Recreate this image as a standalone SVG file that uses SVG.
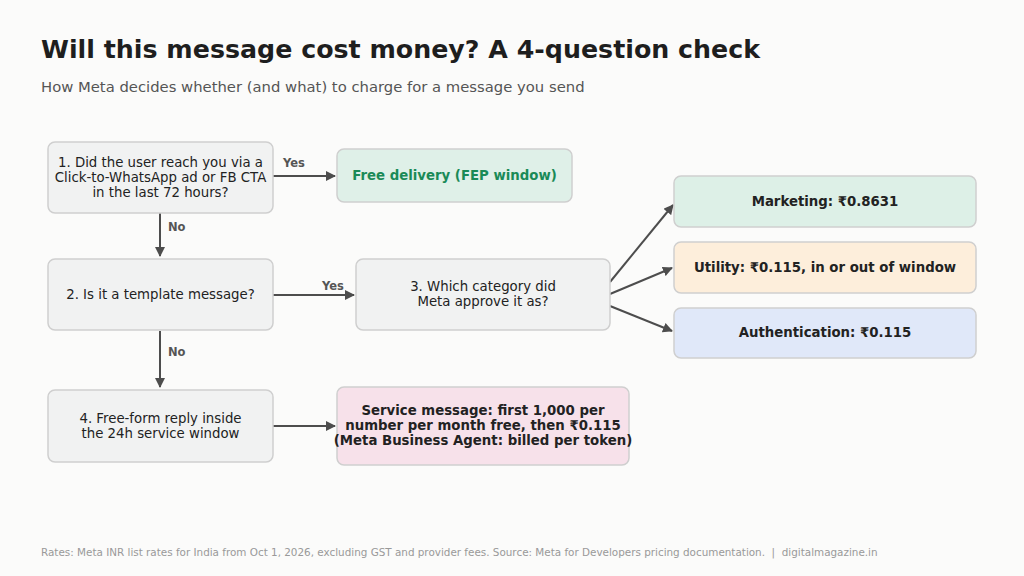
<svg xmlns="http://www.w3.org/2000/svg" width="1024" height="576" viewBox="0 0 1024 576">
<style>
text{font-family:"DejaVu Sans",sans-serif}
.box{stroke:#cfcfcf;stroke-width:1.5}
.q{fill:#f1f2f2}
.t{font-size:13.3px;fill:#222;text-anchor:middle}
.b{font-size:13.3px;font-weight:bold;fill:#222;text-anchor:middle}
.lbl{font-size:11.5px;font-weight:bold;fill:#555}
.c{stroke:#4d4d4d;stroke-width:2;fill:none;marker-end:url(#ah)}
</style>
<defs><marker id="ah" viewBox="0 0 10 10" refX="9" refY="5" markerWidth="5" markerHeight="5" orient="auto"><path d="M0,0L10,5L0,10z" fill="#4d4d4d"/></marker></defs>
<rect width="1024" height="576" fill="#fbfbfa"/>
<text x="41" y="58" font-size="25.3" font-weight="bold" fill="#1e1e1e">Will this message cost money? A 4-question check</text>
<text x="41" y="92" font-size="14.8" fill="#555">How Meta decides whether (and what) to charge for a message you send</text>
<g id="connectors">
<path class="c" d="M273,176H335"/><text class="lbl" x="283" y="167">Yes</text>
<path class="c" d="M160,213V256"/><text class="lbl" x="168" y="231">No</text>
<path class="c" d="M273,295H354"/><text class="lbl" x="322" y="290">Yes</text>
<path class="c" d="M160,331V387"/><text class="lbl" x="168" y="356">No</text>
<path class="c" d="M273,426H335"/>
<path class="c" d="M610,282L673,205"/>
<path class="c" d="M610,294L672,268"/>
<path class="c" d="M610,306L672,331"/>
</g>
<g id="q1"><rect class="box q" x="48" y="142" width="225" height="71" rx="7"/><text class="t" x="160.5" y="167">1. Did the user reach you via a</text><text class="t" x="160.5" y="182">Click-to-WhatsApp ad or FB CTA</text><text class="t" x="160.5" y="197">in the last 72 hours?</text></g>
<g id="fep"><rect class="box" fill="#dff0e8" x="337" y="149" width="235" height="53" rx="7"/><text class="b" x="454.5" y="180" style="fill:#1a8a57">Free delivery (FEP window)</text></g>
<g id="q2"><rect class="box q" x="48" y="259" width="225" height="71" rx="7"/><text class="t" x="160.5" y="299">2. Is it a template message?</text></g>
<g id="q3"><rect class="box q" x="356" y="259" width="254" height="71" rx="7"/><text class="t" x="483" y="291">3. Which category did</text><text class="t" x="483" y="306">Meta approve it as?</text></g>
<g id="q4"><rect class="box q" x="48" y="390" width="225" height="72" rx="7"/><text class="t" x="160.5" y="423">4. Free-form reply inside</text><text class="t" x="160.5" y="438">the 24h service window</text></g>
<g id="service"><rect class="box" fill="#f7e1ea" x="337" y="387" width="292" height="78" rx="7"/><text class="b" x="483" y="415">Service message: first 1,000 per</text><text class="b" x="483" y="430">number per month free, then ₹0.115</text><text class="b" x="483" y="445">(Meta Business Agent: billed per token)</text></g>
<g id="marketing"><rect class="box" fill="#ddf0e7" x="674" y="176" width="302" height="51" rx="7"/><text class="b" x="825" y="206">Marketing: ₹0.8631</text></g>
<g id="utility"><rect class="box" fill="#fdeedb" x="674" y="242" width="302" height="51" rx="7"/><text class="b" x="825" y="272">Utility: ₹0.115, in or out of window</text></g>
<g id="auth"><rect class="box" fill="#e0e8f9" x="674" y="308" width="302" height="50" rx="7"/><text class="b" x="825" y="337">Authentication: ₹0.115</text></g>
<text x="41" y="556" font-size="10.4" fill="#999" xml:space="preserve">Rates: Meta INR list rates for India from Oct 1, 2026, excluding GST and provider fees. Source: Meta for Developers pricing documentation.  |  digitalmagazine.in</text>
</svg>
